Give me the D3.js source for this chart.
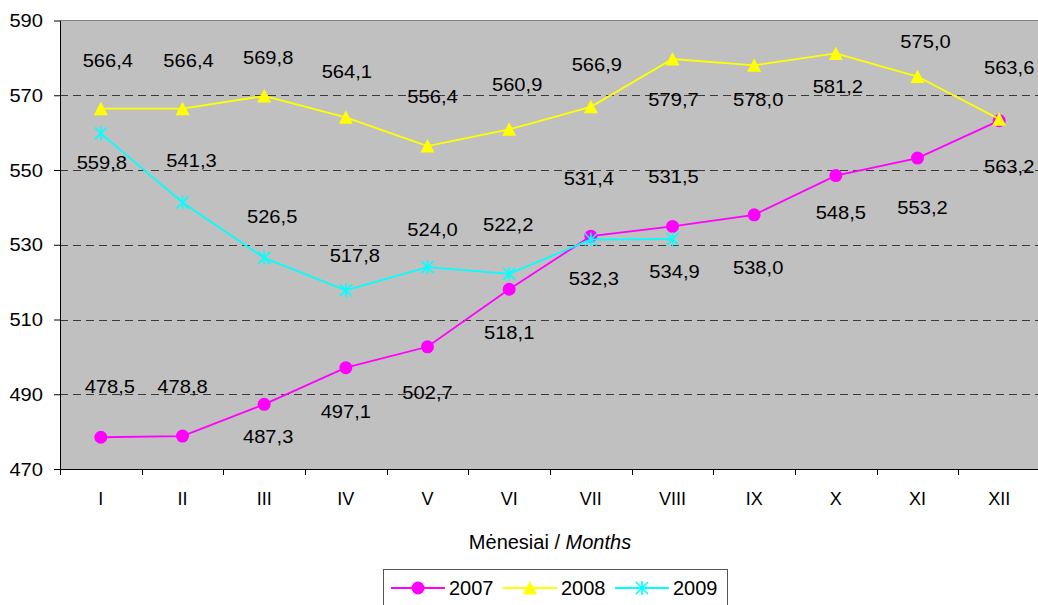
<!DOCTYPE html>
<html>
<head>
<meta charset="utf-8">
<script src="https://cdn.jsdelivr.net/npm/d3@7"></script>
<style>
  html, body { margin: 0; padding: 0; background: #fff; }
  svg { display: block; font-family: "Liberation Sans", Arial, sans-serif; }
</style>
</head>
<body>
<svg id="chart" width="1038" height="605"></svg>
<script>
// ---- data ----
const months = ["I","II","III","IV","V","VI","VII","VIII","IX","X","XI","XII"];
const seriesNames = ["2007","2008","2009"];
const values2007 = [478.5, 478.8, 487.3, 497.1, 502.7, 518.1, 532.3, 534.9, 538.0, 548.5, 553.2, 563.2];
const values2008 = [566.4, 566.4, 569.8, 564.1, 556.4, 560.9, 566.9, 579.7, 578.0, 581.2, 575.0, 563.6];
const values2009 = [559.8, 541.3, 526.5, 517.8, 524.0, 522.2, 531.4, 531.5];
const yTicks = [470, 490, 510, 530, 550, 570, 590];
const gridValues = [490, 510, 530, 550, 570];
// label nudges (px) relative to each point, as in the original chart
const nudgeY2007 = [-50, -49, 33, 44, 46, 44, 43, 45, 53, 37, 50, 46];
const nudgeY2008 = [-48, -48, -38, -45, -49, -44, -42, 41, 35, 33, -35, -51];
const nudgeY2009 = [29, -42, -41, -34, -37, -49, -61, -62];
const nudgeX2007 = [9, 0, 4, 0, 0, 0, 3, 2, 4, 5, 5, 10];
const nudgeX2008 = [7, 6, 4, 1, 5, 8, 6, 1, 4, 2, 8, 10];
const nudgeX2009 = [1, 9, 8, 9, 5, -1, -2, 1];

const series = [
  { name: seriesNames[0], values: values2007, color: "#FF00FF", marker: "circle", nx: nudgeX2007, ny: nudgeY2007 },
  { name: seriesNames[1], values: values2008, color: "#FFFF00", marker: "triangle", nx: nudgeX2008, ny: nudgeY2008 },
  { name: seriesNames[2], values: values2009, color: "#00FFFF", marker: "star", nx: nudgeX2009, ny: nudgeY2009 }
];

const svg = d3.select("#chart");
const plot = { left: 60, right: 1040, top: 20.5, bottom: 469 };

const x = d3.scaleBand().domain(months).range([plot.left, plot.right]).padding(0);
const y = d3.scaleLinear().domain([470, 590]).range([plot.bottom, plot.top]);
const cx = m => x(m) + x.bandwidth() / 2;

// plot background
svg.append("rect")
  .attr("x", plot.left).attr("y", plot.top)
  .attr("width", plot.right - plot.left).attr("height", plot.bottom - plot.top)
  .attr("fill", "#C0C0C0");

// top border
svg.append("line")
  .attr("x1", plot.left).attr("x2", plot.right)
  .attr("y1", y(590)).attr("y2", y(590))
  .attr("stroke", "#808080").attr("stroke-width", 1);

// grid lines
svg.append("g").selectAll("line").data(gridValues).join("line")
  .attr("x1", plot.left).attr("x2", plot.right)
  .attr("y1", d => Math.round(y(d)) + 0.5).attr("y2", d => Math.round(y(d)) + 0.5)
  .attr("stroke", "#3a3a3a").attr("stroke-width", 1)
  .attr("stroke-dasharray", "8,5");

// y axis
const yAxis = d3.axisLeft(y).tickValues(yTicks).tickSize(6).tickSizeOuter(0).tickFormat(d3.format("d"));
const gy = svg.append("g").attr("transform", `translate(${plot.left},0)`).call(yAxis);
gy.select(".domain").attr("stroke", "#000");
gy.selectAll(".tick line").attr("stroke", "#000");
gy.selectAll(".tick text").remove();
gy.selectAll(".tick").append("text")
  .attr("text-anchor", "end")
  .attr("dy", "0.35em")
  .attr("transform", "translate(-17,0) scale(1.15,1)")
  .attr("fill", "#000")
  .style("font-size", "17.5px")
  .text(d => d);

// x axis
const xAxis = d3.axisBottom(x).tickSize(0).tickSizeOuter(0);
const gx = svg.append("g").attr("transform", `translate(0,${plot.bottom})`).call(xAxis);
gx.select(".domain").attr("stroke", "#000");
gx.selectAll(".tick text")
  .attr("fill", "#000")
  .attr("y", 0).attr("dy", 0)
  .attr("transform", "translate(0,36)")
  .style("font-size", "18px")
  .style("font-family", "Liberation Sans, Arial, sans-serif");
// tick marks between categories
svg.append("g").selectAll("line").data(months.concat(["end"])).join("line")
  .attr("x1", (d, i) => Math.round(plot.left + i * x.bandwidth()) + 0.5)
  .attr("x2", (d, i) => Math.round(plot.left + i * x.bandwidth()) + 0.5)
  .attr("y1", plot.bottom).attr("y2", plot.bottom + 6)
  .attr("stroke", "#000");

// axis title
const title = svg.append("text")
  .attr("x", 550).attr("y", 549)
  .attr("text-anchor", "middle")
  .style("font-size", "20px")
  .attr("fill", "#000");
title.append("tspan").text("Mėnesiai / ");
title.append("tspan").style("font-style", "italic").text("Months");

// markers
function drawMarker(g, type, color, px, py) {
  if (type === "circle") {
    g.append("circle").attr("cx", px).attr("cy", py).attr("r", 6.5).attr("fill", color);
  } else if (type === "triangle") {
    const s = 7;
    g.append("path")
      .attr("d", `M${px},${py - s} L${px + s},${py + s - 0.5} L${px - s},${py + s - 0.5} Z`)
      .attr("fill", color);
  } else {
    const s = 6;
    g.append("path")
      .attr("d", `M${px - s},${py - s} L${px + s},${py + s} M${px - s},${py + s} L${px + s},${py - s} M${px},${py - s - 1} L${px},${py + s + 1}`)
      .attr("stroke", color).attr("stroke-width", 1.6).attr("fill", "none");
  }
}

const line = d3.line().x((d, i) => cx(months[i])).y(d => y(d));

series.forEach(s => {
  const g = svg.append("g");
  g.append("path").datum(s.values)
    .attr("d", line)
    .attr("fill", "none")
    .attr("stroke", s.color)
    .attr("stroke-width", 1.8);
  s.values.forEach((v, i) => drawMarker(g, s.marker, s.color, cx(months[i]), y(v)));
});

// data labels
const fmt = v => v.toFixed(1).replace(".", ",");
series.forEach(s => {
  svg.append("g").selectAll("text").data(s.values).join("text")
    .attr("text-anchor", "middle")
    .attr("dy", "0.35em")
    .attr("transform", (d, i) => `translate(${cx(months[i]) + s.nx[i]},${y(d) + s.ny[i]}) scale(1.15,1)`)
    .style("font-size", "17.5px")
    .attr("fill", "#000")
    .text(d => fmt(d));
});

// legend
const lg = svg.append("g");
lg.append("rect")
  .attr("x", 383.5).attr("y", 569.5).attr("width", 344).attr("height", 50)
  .attr("fill", "#fff").attr("stroke", "#555").attr("stroke-width", 1);
const legendX = [391, 503, 615];
series.forEach((s, i) => {
  const lx = legendX[i], ly = 588;
  lg.append("line").attr("x1", lx).attr("x2", lx + 54).attr("y1", ly).attr("y2", ly)
    .attr("stroke", s.color).attr("stroke-width", 1.8);
  drawMarker(lg, s.marker, s.color, lx + 27, ly);
  lg.append("text").attr("x", lx + 58).attr("y", ly + 7)
    .style("font-size", "20px").attr("fill", "#000").text(s.name);
});
</script>
</body>
</html>
